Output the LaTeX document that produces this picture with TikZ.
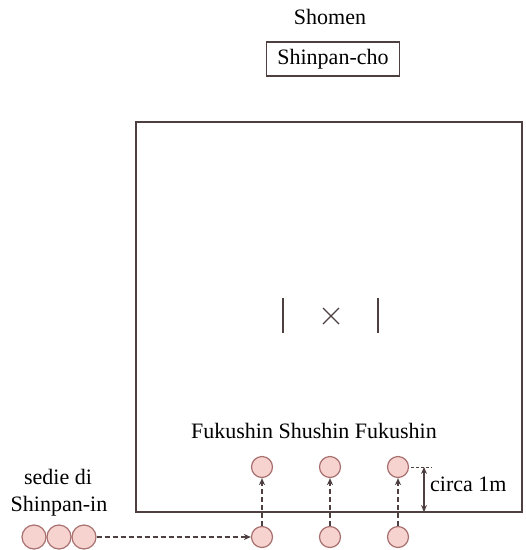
\documentclass[tikz,border=0pt]{standalone}
\usepackage{fontspec}
\setmainfont{Liberation Serif}
\usetikzlibrary{arrows.meta}
\definecolor{edge}{HTML}{4E4040}
\definecolor{seatfill}{HTML}{F6D3CE}
\definecolor{seatline}{HTML}{A87070}
\begin{document}
\begin{tikzpicture}[x=1pt,y=-1pt,
  txt/.style={font=\fontsize{22}{26}\selectfont, inner sep=0pt, text=black},
  seat/.style={circle, draw=seatline, fill=seatfill, line width=1.2pt, minimum size=21pt, inner sep=0pt},
  bigseat/.style={seat, minimum size=24pt},
  mv/.style={draw=edge, line width=1.4pt, dash pattern=on 5pt off 3pt, -{Stealth[length=7pt,width=6pt]}},
  court/.style={draw=edge, line width=1.6pt}]
\useasboundingbox (0,0) rectangle (526,550);
% court
\draw[court] (136,122) rectangle (522,512);
\node[txt] (shomen) at (330,17) {Shomen};
\node[txt, draw=edge, line width=1.1pt, inner xsep=11pt, inner ysep=7pt, text height=15pt, text depth=5pt] (cho) at (333,59) {Shinpan-cho};
% centre marks
\draw[edge, line width=1.4pt] (283,298) -- (283,333);
\draw[edge, line width=1.4pt] (378,298) -- (378,333);
\coordinate (xc) at (331,316);
\draw[edge, line width=1.3pt] (323,308) -- (339,324) (323,324) -- (339,308);
% labels
\node[txt] (fuku) at (314,431) {Fukushin Shushin Fukushin};
\node[txt] (sedie) at (58,477) {sedie di};
\node[txt] (shin) at (59,506) {Shinpan-in};
% seats
\node[seat] (u1) at (262,467) {};
\node[seat] (u2) at (330,467) {};
\node[seat] (u3) at (398,467) {};
\node[seat] (l1) at (262,537) {};
\node[seat] (l2) at (330,537) {};
\node[seat] (l3) at (398,537) {};
\node[bigseat] (s1) at (34,537) {};
\node[bigseat] (s2) at (59,537) {};
\node[bigseat] (s3) at (84,537) {};
% moves
\draw[mv] (s3) -- (l1);
\draw[mv] (l1) -- (u1);
\draw[mv] (l2) -- (u2);
\draw[mv] (l3) -- (u3);
% dimension
\coordinate (dtop) at (424,467);
\coordinate (dbot) at (424,512);
\draw[edge, line width=1pt, dash pattern=on 3pt off 2pt] (u3.east) ++(2,0) -- (432,467);
\draw[edge, line width=1.2pt, {Stealth[length=7pt,width=6pt]}-{Stealth[length=7pt,width=6pt]}] (dtop) -- (dbot);
\node[txt, anchor=west] (circa) at (430,484) {circa 1m};
\end{tikzpicture}
\end{document}
